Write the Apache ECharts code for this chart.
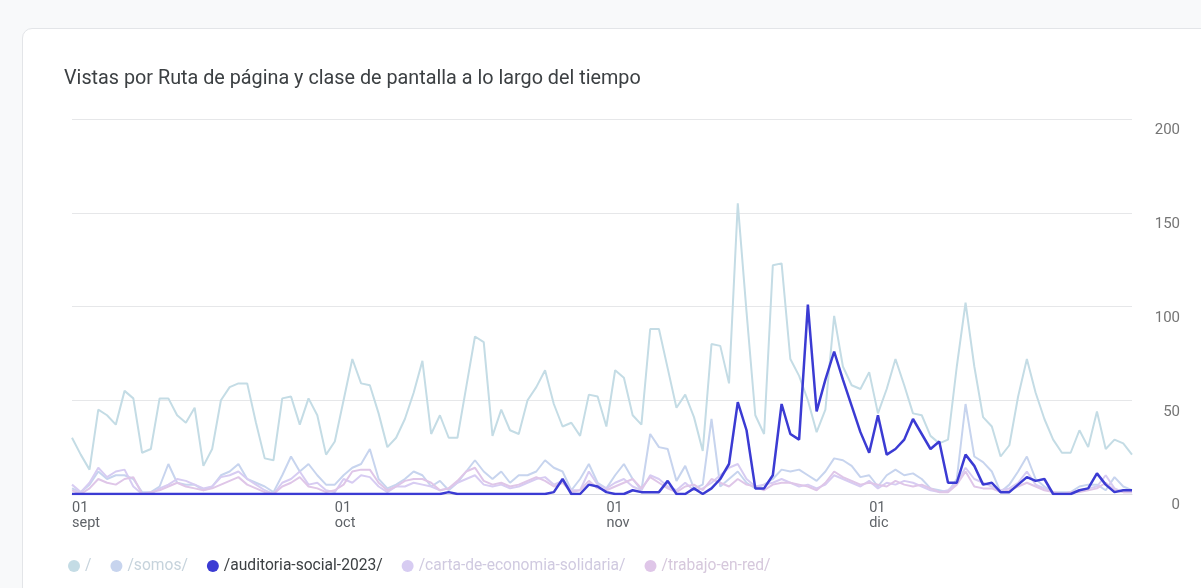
<!DOCTYPE html>
<html>
<head>
<meta charset="utf-8">
<script src="https://cdn.jsdelivr.net/npm/echarts@6/dist/echarts.min.js"></script>
<style>
  html, body { margin: 0; padding: 0; background: #f8f9fa; }
  #card { position: absolute; left: 22px; top: 28px; width: 1220px; height: 620px; background: #fff;
          border: 1px solid #e3e5e8; border-radius: 10px; box-sizing: border-box; }
  #chart { position: absolute; left: 0; top: 0; width: 1201px; height: 588px; }
</style>
</head>
<body>
<div id="card"></div>
<div id="chart"></div>
<script>
// ---- Data ----
const startDate = '2023-09-01';
const dayCount = 122; // 1 sept .. 31 dic
const monthLabels = ['sept', 'oct', 'nov', 'dic'];
const yTicks = [0, 50, 100, 150, 200];
const seriesNames = ['/', '/somos/', '/auditoria-social-2023/', '/carta-de-economia-solidaria/', '/trabajo-en-red/'];

const rootViews = [
  30,21,13,45,42,37,55,51,22,24,
  51,51,42,38,46,15,24,50,57,59,
  59,38,19,18,51,52,37,51,42,21,
  28,50,72,59,58,43,25,30,40,54,
  71,32,42,30,30,57,84,81,31,45,
  34,32,50,57,66,48,36,38,31,53,
  52,36,66,62,42,37,88,88,67,46,
  53,41,23,80,79,59,155,97,42,32,
  122,123,72,63,50,33,45,95,68,58,
  56,65,43,56,72,58,43,42,31,27,
  29,68,102,68,41,36,20,26,52,72,
  54,40,29,22,22,34,25,44,24,29,
  27,21
];
const somosViews = [
  3,1,5,12,8,10,10,8,1,1,
  4,16,6,5,5,2,4,10,12,16,
  8,6,4,1,10,20,12,16,10,5,
  5,10,14,16,24,8,3,5,8,12,
  10,4,7,2,6,12,18,12,8,12,
  6,10,10,12,18,14,12,2,8,16,
  6,3,10,16,8,2,32,25,24,7,
  15,3,5,40,4,8,12,6,3,5,
  8,13,12,13,10,7,12,19,18,15,
  9,10,4,10,13,10,11,8,3,2,
  1,8,48,20,17,12,1,5,12,20,
  8,4,1,1,1,4,5,5,2,9,
  4,2
];
const auditoriaViews = [
  0,0,0,0,0,0,0,0,0,0,
  0,0,0,0,0,0,0,0,0,0,
  0,0,0,0,0,0,0,0,0,0,
  0,0,0,0,0,0,0,0,0,0,
  0,0,0,1,0,0,0,0,0,0,
  0,0,0,0,0,1,8,0,0,5,
  4,1,0,0,2,1,1,1,7,0,
  0,3,0,3,8,16,49,34,3,3,
  10,48,32,29,101,44,61,76,61,47,
  33,22,42,21,24,29,40,32,24,28,
  6,6,21,15,5,6,1,1,5,9,
  7,8,0,0,0,2,3,11,5,1,
  2,2
];
const cartaViews = [
  5,1,6,14,9,12,13,4,0,0,
  3,5,8,7,5,3,4,9,10,12,
  8,5,2,0,6,8,12,5,6,2,
  1,8,6,10,9,4,1,4,4,6,
  5,4,2,3,6,8,10,5,4,5,
  3,4,6,8,9,5,7,2,2,12,
  5,3,6,8,4,2,10,8,4,2,
  6,2,3,6,10,14,16,8,4,5,
  6,8,6,4,5,3,5,10,8,6,
  4,7,3,6,5,7,6,4,2,1,
  2,6,14,8,6,4,2,3,6,12,
  5,3,1,0,1,2,3,4,10,3,
  1,1
];
const trabajoViews = [
  2,0,3,8,6,5,8,9,0,1,
  2,4,6,4,3,2,3,5,7,9,
  5,3,1,0,4,6,9,4,3,1,
  2,5,12,13,13,6,2,4,7,8,
  8,6,2,3,7,12,14,7,5,6,
  4,5,7,9,7,4,6,1,2,7,
  3,2,4,6,8,3,9,6,3,1,
  4,5,2,8,6,4,8,5,4,2,
  5,6,6,5,4,2,6,12,9,7,
  5,6,5,4,7,5,4,5,3,1,
  1,5,12,4,3,3,1,2,4,6,
  4,2,1,0,1,1,2,3,6,2,
  1,1
];

// categories (dates)
const dates = [];
(function () {
  const d0 = new Date(startDate + 'T00:00:00Z');
  for (let i = 0; i < dayCount; i++) {
    const d = new Date(d0.getTime() + i * 86400000);
    dates.push(d.toISOString().slice(0, 10));
  }
})();

const colors = ['#c4dce5', '#c7d4ee', '#3b3bd3', '#d7ccf2', '#dfc6e8'];
const legendTextColors = ['#c6d3dc', '#c6d3dc', '#3c4043', '#d0cae0', '#d6c8dc'];
const values = [rootViews, somosViews, auditoriaViews, cartaViews, trabajoViews];

const chart = echarts.init(document.getElementById('chart'), null, { renderer: 'canvas' });
const font = 'Roboto, "Noto Sans", sans-serif';

chart.setOption({
  animation: false,
  backgroundColor: 'transparent',
  textStyle: { fontFamily: font },
  title: {
    text: 'Vistas por Ruta de página y clase de pantalla a lo largo del tiempo',
    left: 59, top: 64,
    textStyle: { fontFamily: font, fontSize: 19.8, fontWeight: 'normal', color: '#3c4043' }
  },
  legend: {
    left: 63, top: 553,
    icon: 'circle', itemWidth: 12, itemHeight: 12, itemGap: 19,
    textStyle: { fontFamily: font, fontSize: 15.6 },
    data: seriesNames.map((n, k) => ({ name: n, textStyle: { color: legendTextColors[k] } }))
  },
  grid: { left: 72, right: 69, top: 119, bottom: 94, containLabel: false },
  xAxis: {
    type: 'category', data: dates, boundaryGap: false,
    axisLine: { show: true, lineStyle: { color: '#dadce0' } },
    axisTick: { show: false },
    splitLine: { show: false },
    axisLabel: {
      interval: (idx, val) => val.slice(8, 10) === '01',
      formatter: (val) => '01\n' + monthLabels[parseInt(val.slice(5, 7), 10) - 9],
      align: 'left', margin: 7, padding: [0, 0, 0, 0],
      color: '#5f6368', fontSize: 14.5, lineHeight: 15, fontFamily: font
    }
  },
  yAxis: {
    type: 'value', position: 'right', min: 0, max: 200, interval: 50,
    axisLine: { show: false }, axisTick: { show: false },
    splitLine: { lineStyle: { color: '#e6e7e9', width: 1 } },
    axisLabel: {
      align: 'right', margin: 48, verticalAlign: 'top', padding: [4, 0, 0, 0],
      color: '#757575', fontSize: 15, fontFamily: font,
      formatter: (v) => yTicks.includes(v) ? String(v) : ''
    }
  },
  series: [0, 1, 3, 4, 2].map(k => ({
    name: seriesNames[k], type: 'line', data: values[k],
    symbol: 'none', smooth: false,
    color: colors[k],
    z: k === 2 ? 5 : 2,
    lineStyle: { color: colors[k], width: k === 2 ? 2.5 : 2 }
  }))
});
</script>
</body>
</html>
